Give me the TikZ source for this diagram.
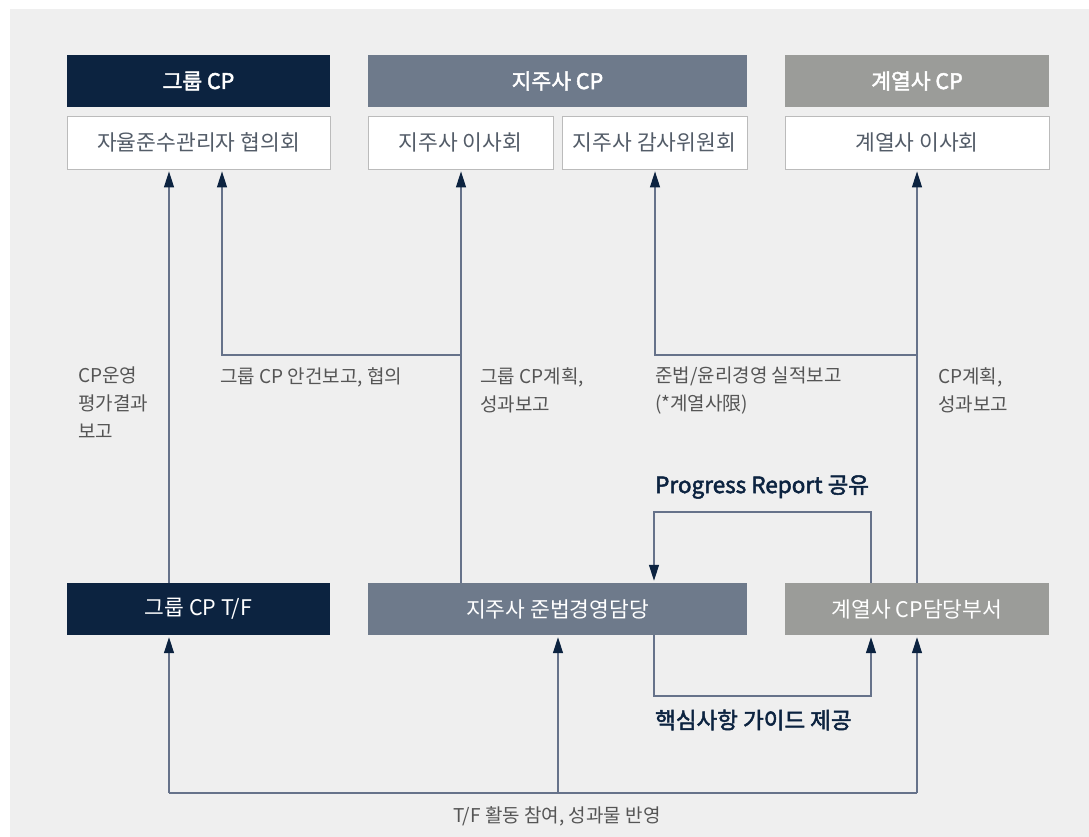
\documentclass[tikz,border=0pt]{standalone}
\usepackage{fontspec}
\setmainfont{Noto Sans CJK KR}
\newfontfamily\medfont{Noto Sans CJK KR}[FakeBold=2.2]
\usetikzlibrary{arrows.meta,calc}
\definecolor{navy}{HTML}{0C2340}
\definecolor{slate}{HTML}{6E7A8B}
\definecolor{grayb}{HTML}{9B9C99}
\definecolor{bg}{HTML}{EFEFEF}
\definecolor{txt}{HTML}{555555}
\definecolor{wline}{HTML}{BBBBBB}
\definecolor{conn}{HTML}{66728A}
\tikzset{
  hdr/.style={draw=none, inner sep=0pt, text=white, font=\fontsize{21.5}{24}\selectfont},
  wbox/.style={draw=wline, line width=0.8pt, fill=white, inner sep=0pt, text=slate!75!black, font=\fontsize{21.5}{24}\selectfont},
  lbl/.style={inner sep=0pt, text=txt, align=left, anchor=north west, font=\fontsize{19}{28}\selectfont},
  blbl/.style={inner sep=0pt, text=navy, font=\medfont\fontsize{22.5}{24}\selectfont},
  conline/.style={draw=conn, line width=1.2pt},
  arr/.style={conline, -{Triangle[length=16pt,width=10pt,fill=navy,color=navy]}, shorten >=2pt},
}
\begin{document}
\begin{tikzpicture}[x=1pt,y=-1pt]
\useasboundingbox (0,0) rectangle (1089,837);
\fill[bg] (10,9) rectangle (1089,837);
% header row
\node[hdr, fill=navy, minimum width=263pt, minimum height=52pt] (hg) at (198.5,81) {\medfont 그룹 CP};
\node[hdr, fill=slate, minimum width=379pt, minimum height=52pt] (hh) at (557.5,81) {\medfont 지주사 CP};
\node[hdr, fill=grayb, minimum width=264pt, minimum height=52pt] (ha) at (917,81) {\medfont 계열사 CP};
% white boxes
\node[wbox, minimum width=263pt, minimum height=53pt] (wg) at (198.5,142.5) {자율준수관리자 협의회};
\node[wbox, minimum width=185pt, minimum height=53pt] (wh1) at (460.5,142.5) {지주사 이사회};
\node[wbox, minimum width=185pt, minimum height=53pt] (wh2) at (654.5,142.5) {지주사 감사위원회};
\node[wbox, minimum width=264pt, minimum height=53pt] (wa) at (917,142.5) {계열사 이사회};
% bottom boxes
\node[hdr, fill=navy, minimum width=263pt, minimum height=52pt] (bg1) at (198.5,609) {그룹 CP T/F};
\node[hdr, fill=slate, minimum width=379pt, minimum height=52pt] (bh) at (557.5,609) {지주사 준법경영담당};
\node[hdr, fill=grayb, minimum width=264pt, minimum height=52pt] (ba) at (917,609) {계열사 CP담당부서};
% junction coordinates
\coordinate (j1) at (461,355);
\coordinate (j2) at (222,355);
\coordinate (j3) at (917,355);
\coordinate (j4) at (655,355);
\coordinate (p1) at (871,512);
\coordinate (p2) at (654,512);
\coordinate (k1) at (654,696);
\coordinate (k2) at (871,696);
\coordinate (m1) at (169,793);
\coordinate (m2) at (558,793);
\coordinate (m3) at (917,793);
% upward connectors
\draw[arr] (bg1.north -| 169,0) -- (wg.south -| 169,0);
\draw[arr] (bh.north -| 461,0) -- (wh1.south -| 461,0);
\draw[arr] (j1) -- (j2) -- (wg.south -| 222,0);
\draw[arr] (ba.north -| 917,0) -- (wa.south -| 917,0);
\draw[arr] (j3) -- (j4) -- (wh2.south -| 655,0);
% progress report loop
\draw[arr] (ba.north -| p1) -- (p1) -- (p2) -- (bh.north -| p2);
% guide loop
\draw[arr] (bh.south -| k1) -- (k1) -- (k2) -- (ba.south -| k2);
% bottom bus
\draw[conline] (m1) -- (m3);
\draw[arr] (m1) -- (bg1.south -| m1);
\draw[arr] (m2) -- (bh.south -| m2);
\draw[arr] (m3) -- (ba.south -| m3);
% labels
\node[lbl] (l1) at (78,367) {CP운영\\평가결과\\보고};
\node[lbl] (l2) at (220,367) {그룹 CP 안건보고, 협의};
\node[lbl] (l3) at (480,367) {그룹 CP계획,\\성과보고};
\node[lbl] (l4) at (655,367) {준법/윤리경영 실적보고\\(*계열사限)};
\node[lbl] (l5) at (938,367) {CP계획,\\성과보고};
\node[blbl, anchor=west] (l6) at (655,487) {Progress Report 공유};
\node[blbl, anchor=west] (l7) at (655,720) {핵심사항 가이드 제공};
\node[lbl, anchor=center] (l8) at (557,816) {T/F 활동 참여, 성과물 반영};
\end{tikzpicture}
\end{document}
